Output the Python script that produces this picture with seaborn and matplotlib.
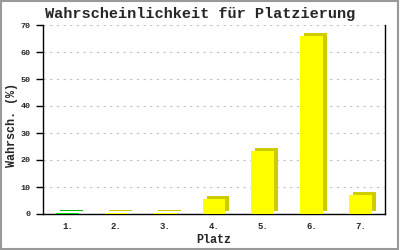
import matplotlib
matplotlib.use("Agg")
import matplotlib.pyplot as plt
import matplotlib.transforms as mtransforms
from matplotlib.patches import Rectangle
import seaborn as sns
import pandas as pd

places = ["1.", "2.", "3.", "4.", "5.", "6.", "7."]
probs = [0.5, 0.2, 0.2, 5.5, 23.5, 66.0, 7.0]
front_colors = ["#00DD00", "#FFFF00", "#FFFF00", "#FFFF00", "#FFFF00", "#FFFF00", "#FFFF00"]
side_colors = ["#00BB00", "#CCCC00", "#CCCC00", "#CCCC00", "#CCCC00", "#CCCC00", "#CCCC00"]
yticks = [0, 10, 20, 30, 40, 50, 60, 70]

sns.set_style("white")
plt.rcParams["font.family"] = ["Liberation Mono", "DejaVu Sans Mono"]

fig = plt.figure(figsize=(4, 2.5), dpi=100)
ax = fig.add_axes([43 / 400, 1 - 214 / 250, 342 / 400, 189 / 250])

df = pd.DataFrame({"Platz": places, "Wahrsch": probs})
sns.barplot(data=df, x="Platz", y="Wahrsch", hue="Platz", palette=front_colors,
            legend=False, width=0.47, ax=ax, zorder=3, saturation=1,
            edgecolor="none", linewidth=0)

# 3D depth: darker copy of each bar shifted up-right
shift = mtransforms.ScaledTranslation(4 / 100, 3 / 100, fig.dpi_scale_trans)
for patch, sc in zip(list(ax.patches), side_colors):
    r = Rectangle((patch.get_x(), patch.get_y()), patch.get_width(), patch.get_height(),
                  facecolor=sc, edgecolor="none", linewidth=0,
                  transform=ax.transData + shift, zorder=2)
    ax.add_patch(r)

ax.set_xlim(-0.5, len(places) - 0.5)
ax.set_ylim(0, 70)
ax.set_yticks(yticks)
ax.set_yticklabels([str(t) for t in yticks], fontsize=6, fontweight="bold")
ax.tick_params(axis="y", length=5, width=1, color="black", pad=4, left=True)
ax.tick_params(axis="x", length=0, pad=6, labelsize=6.5)
for lab in ax.get_xticklabels():
    lab.set_fontweight("bold")

ax.yaxis.grid(True, linestyle=(0, (2, 4)), color="#c0c0c0", linewidth=0.8, zorder=0)
ax.set_axisbelow(True)

for side in ["left", "bottom", "right"]:
    ax.spines[side].set_visible(True)
    ax.spines[side].set_color("black")
    ax.spines[side].set_linewidth(1)
ax.spines["top"].set_visible(False)

ax.set_xlabel("")
ax.set_ylabel("")
fig.text(0.5, 1 - 14 / 250, "Wahrscheinlichkeit für Platzierung", ha="center", va="center",
         fontsize=11, fontweight="bold")
fig.text(214 / 400, 1 - 240 / 250, "Platz", ha="center", va="center",
         fontsize=8.5, fontweight="bold")
fig.text(12 / 400, 1 - 125 / 250, "Wahrsch. (%)", ha="center", va="center",
         rotation=90, fontsize=8.5, fontweight="bold")

# figure frame
fig.patches.append(Rectangle((0.002, 0.003), 0.994, 0.994, transform=fig.transFigure,
                             fill=False, edgecolor="#999999", linewidth=1.5))

fig.savefig("out.png", dpi=100)
